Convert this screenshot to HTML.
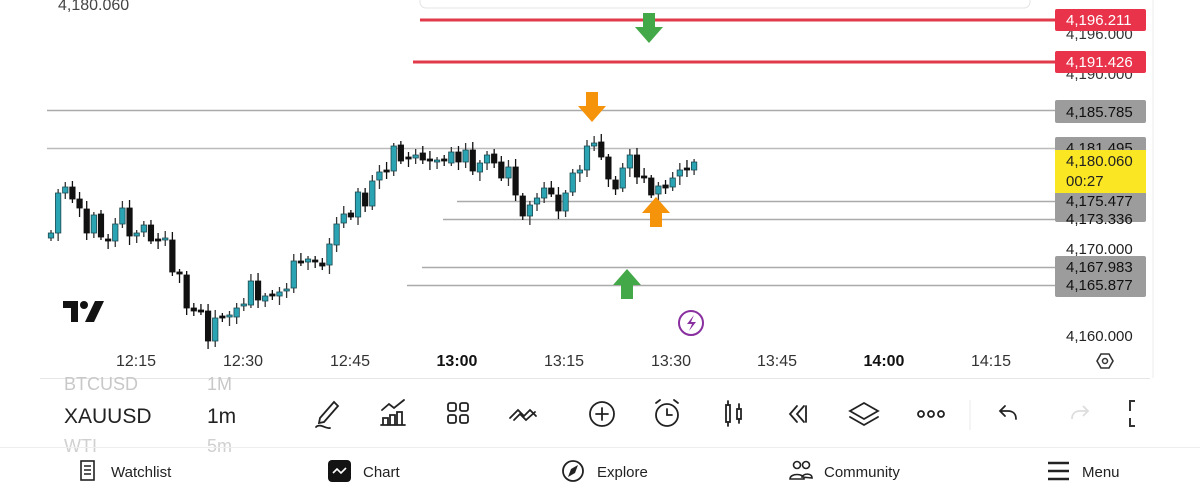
<!DOCTYPE html>
<html><head><meta charset="utf-8"><style>
html,body{margin:0;padding:0;width:1200px;height:496px;overflow:hidden;background:#fff;font-family:"Liberation Sans",sans-serif;}
svg{position:absolute;left:0;top:0}
.t{font-family:"Liberation Sans",sans-serif;}
</style></head><body>
<svg width="1200" height="496" viewBox="0 0 1200 496" id="s">
<rect x="420" y="-10" width="610" height="18" rx="6" fill="#fff" stroke="#e4e4e4"/>
<text x="58" y="10" font-size="16" fill="#444" class="t">4,180.060</text>
<!-- horizontal lines -->
<line x1="47" y1="110.5" x2="1055" y2="110.5" stroke="#aaa" stroke-width="1.5"/>
<line x1="47" y1="148.5" x2="1055" y2="148.5" stroke="#bbb" stroke-width="1.5"/>
<line x1="457" y1="201.5" x2="1055" y2="201.5" stroke="#aaa" stroke-width="1.5"/>
<line x1="443" y1="219.5" x2="1055" y2="219.5" stroke="#aaa" stroke-width="1.5"/>
<line x1="422" y1="267.5" x2="1055" y2="267.5" stroke="#aaa" stroke-width="1.5"/>
<line x1="407" y1="285.5" x2="1055" y2="285.5" stroke="#aaa" stroke-width="1.5"/>
<line x1="420" y1="20" x2="1055" y2="20" stroke="#e23a4b" stroke-width="3"/>
<line x1="413" y1="62" x2="1055" y2="62" stroke="#e23a4b" stroke-width="3"/>
<g id="c"></g>
<!-- arrows -->
<path d="M643,13h12v14h8l-14,16l-14,-16h8z" fill="#43a847"/>
<path d="M586,92h12v14h8l-14,16l-14,-16h8z" fill="#f5930b"/>
<path d="M650,227h12v-14h8l-14,-16l-14,16h8z" fill="#f5930b"/>
<path d="M621,299h12v-14h8l-14,-16l-14,16h8z" fill="#43a847"/>
<circle cx="691" cy="323" r="12" fill="none" stroke="#8a2fa0" stroke-width="2"/>
<path d="M694,315l-7,9h5l-3,7l7,-9h-5z" fill="#8a2fa0"/>
<!-- TV logo -->
<path d="M63,301h15v21h-7v-14h-8z" fill="#131313"/>
<circle cx="84" cy="305" r="4" fill="#131313"/>
<path d="M95,301h9l-10,21h-9z" fill="#131313"/>
<!-- price labels -->
<g class="t" font-size="15">
<text x="1066" y="39" fill="#333">4,196.000</text>
<text x="1066" y="79" fill="#333">4,190.000</text>
<rect x="1055" y="9" width="91" height="22" rx="2" fill="#e8334a"/>
<text x="1066" y="25" fill="#fff">4,196.211</text>
<rect x="1055" y="51" width="91" height="22" rx="2" fill="#e8334a"/>
<text x="1066" y="67" fill="#fff">4,191.426</text>
<rect x="1055" y="100" width="91" height="23" rx="2" fill="#9c9c9c"/>
<text x="1066" y="117" fill="#111">4,185.785</text>
<rect x="1055" y="137" width="91" height="85" rx="2" fill="#9c9c9c"/>
<text x="1066" y="153" fill="#111">4,181.495</text>
<rect x="1055" y="150" width="91" height="43" fill="#fbe623"/>
<text x="1066" y="166" fill="#222">4,180.060</text>
<text x="1066" y="186" fill="#222">00:27</text>
<text x="1066" y="206" fill="#111">4,175.477</text>
<text x="1066" y="224" fill="#111">4,173.336</text>
<text x="1066" y="254" fill="#222">4,170.000</text>
<rect x="1055" y="256" width="91" height="41" rx="2" fill="#9c9c9c"/>
<text x="1066" y="272" fill="#111">4,167.983</text>
<text x="1066" y="290" fill="#111">4,165.877</text>
<text x="1066" y="341" fill="#222">4,160.000</text>
</g>
<!-- time axis -->
<g class="t" font-size="16" fill="#333" text-anchor="middle">
<text x="136" y="366">12:15</text><text x="243" y="366">12:30</text><text x="350" y="366">12:45</text>
<text x="457" y="366" font-weight="bold" fill="#111">13:00</text><text x="564" y="366">13:15</text><text x="671" y="366">13:30</text>
<text x="777" y="366">13:45</text><text x="884" y="366" font-weight="bold" fill="#111">14:00</text><text x="991" y="366">14:15</text>
</g>
<path d="M1097,361l4,-7h8l4,7l-4,7h-8z" fill="none" stroke="#333" stroke-width="1.6"/>
<circle cx="1105" cy="361" r="2.5" fill="none" stroke="#333" stroke-width="1.5"/>
<line x1="1153" y1="0" x2="1153" y2="378" stroke="#eee"/>
<line x1="40" y1="378.5" x2="1150" y2="378.5" stroke="#e6e6e6"/>
<!-- toolbar -->
<g class="t">
<text x="64" y="390" font-size="18" fill="#c8c8c8">BTCUSD</text>
<text x="207" y="390" font-size="18" fill="#c8c8c8">1M</text>
<text x="64" y="423" font-size="21" fill="#222">XAUUSD</text>
<text x="207" y="423" font-size="21" fill="#222">1m</text>
<text x="64" y="452" font-size="18" fill="#d0d0d0">WTI</text>
<text x="207" y="452" font-size="18" fill="#d0d0d0">5m</text>
</g>
<g fill="none" stroke="#222" stroke-width="1.8" stroke-linecap="round">
<path d="M320,418l14,-16l4,4l-14,16l-5,1z M316,427c4,-4 10,2 14,1"/>
<path d="M381,425h24 M383,424v-6h5v6 M390,424v-9h5v9 M397,424v-12h5v12 M382,410l7,-6l5,4l10,-8"/>
<rect x="448" y="403" width="8" height="8" rx="2"/><rect x="460" y="403" width="8" height="8" rx="2"/><rect x="448" y="415" width="8" height="8" rx="2"/><rect x="460" y="415" width="8" height="8" rx="2"/>
<path d="M510,418l8,-8l6,6l6,-6l6,6 M514,420l6,-6l6,6l9,-8"/>
<circle cx="602" cy="414" r="12"/><path d="M596,414h12 M602,408v12"/>
<circle cx="667" cy="415" r="11"/><path d="M667,409v6h5 M656,403l4,-3 M678,403l-4,-3"/>
<rect x="726" y="405" width="4" height="17"/><path d="M728,401v4 M728,422v4"/><rect x="737" y="409" width="4" height="10"/><path d="M739,404v5 M739,419v4"/>
<path d="M797,406l-7,8l7,8 M804,406l-7,8l7,8 M806,406v16"/>
<path d="M864,403l14,8l-14,8l-14,-8z M850,417l14,8l14,-8"/>
<circle cx="921" cy="414" r="3"/><circle cx="931" cy="414" r="3"/><circle cx="941" cy="414" r="3"/>
<path d="M1005,406l-5,5l5,5 M1000,411h8c5,0 8,3 8,8"/>
</g>
<line x1="970" y1="400" x2="970" y2="430" stroke="#e8e8e8"/>
<path d="M1083,406l5,5l-5,5 M1088,411h-8c-5,0 -8,3 -8,8" fill="none" stroke="#ddd" stroke-width="1.8"/>
<path d="M1135,401h-5v10 M1130,418v8h5" fill="none" stroke="#333" stroke-width="2"/>
<line x1="0" y1="447.5" x2="1200" y2="447.5" stroke="#eee"/>
<!-- bottom nav -->
<g class="t" font-size="15" fill="#222">
<rect x="81" y="461" width="13" height="19" fill="none" stroke="#222" stroke-width="1.6"/>
<path d="M84,466h7 M84,470h7 M84,474h7" stroke="#222" stroke-width="1.4"/>
<text x="111" y="477">Watchlist</text>
<rect x="328" y="460" width="23" height="22" rx="4" fill="#131313"/>
<path d="M333,473l4,-4l4,4l5,-5" stroke="#fff" stroke-width="1.6" fill="none"/>
<text x="363" y="477">Chart</text>
<circle cx="573" cy="471" r="10" fill="none" stroke="#222" stroke-width="1.8"/>
<path d="M568,477l3,-8l7,-4l-3,8z" fill="#222"/>
<text x="597" y="477">Explore</text>
<circle cx="797" cy="465" r="3.5" fill="none" stroke="#222" stroke-width="1.6"/><circle cx="806" cy="465" r="3.5" fill="none" stroke="#222" stroke-width="1.6"/>
<path d="M790,479c0,-6 14,-6 14,0z M802,477c2,-4 10,-4 10,1z" fill="none" stroke="#222" stroke-width="1.6"/>
<text x="824" y="477">Community</text>
<path d="M1048,463h21 M1048,471h21 M1048,479h21" stroke="#222" stroke-width="2.6"/>
<text x="1082" y="477">Menu</text>
</g>
</svg>
<script>
var d=[[51,233,238,1],[58,193,233,1],[65,187,193,1],[72,187,199,0],[79,199,208,0],[86,209,233,0],[93,215,233,1],[100,214,237,0],[107,239,241,0],[114,224,241,1],[121,208,224,1],[128,208,236,0],[135,233,236,1],[142,225,232,1],[149,225,241,0],[156,239,241,0],[163,238,240,1],[170,240,272,0],[177,272,274,0],[184,275,308,0],[191,308,311,0],[198,310,312,0],[205,311,341,0],[212,318,341,1],[219,316,318,0],[226,315,317,1],[233,308,317,1],[240,304,306,1],[247,281,305,1],[254,281,300,0],[261,296,301,1],[268,294,296,0],[275,292,296,1],[282,289,291,1],[289,261,288,1],[296,261,263,0],[303,259,262,1],[310,260,262,0],[317,263,266,0],[324,244,265,1],[331,224,245,1],[338,214,223,1],[345,213,217,0],[352,192,217,1],[359,193,206,0],[366,181,206,1],[373,172,180,1],[380,170,172,0],[387,146,171,1],[394,145,161,0],[401,157,159,0],[407,155,158,1],[414,153,160,0],[421,159,161,0],[428,160,162,1],[435,159,161,0],[442,152,163,1],[449,152,162,0],[456,150,162,1],[463,150,171,0],[470,163,172,1],[477,155,163,1],[484,154,163,0],[491,162,178,0],[498,167,178,1],[505,167,195,0],[512,196,216,0],[519,205,216,1],[526,198,204,1],[533,188,198,1],[540,188,194,0],[547,195,211,0],[554,193,211,1],[561,173,192,1],[568,170,173,1],[575,146,170,1],[582,143,146,1],[589,142,157,0],[596,157,179,0],[603,180,189,0],[610,168,188,1],[617,155,168,1],[624,155,177,0],[631,176,178,0],[638,178,195,0],[645,186,194,1],[652,185,188,0],[659,178,187,1],[666,170,176,1],[673,168,170,0],[680,162,170,1]];
// shift second half x to match measured positions
var out='',n=d.length;
for(var i=0;i<n;i++){var c=d[i],x=51+i*7.14+(i>49?0.5:0),t=c[1],b=c[2];var up=c[3];
var f=up?'#2aa3b3':'#111',s=up?'#1d4a50':'#111';
var wt=t-3-(i*7)%6,wb=b+3+(i*5)%7;
out+='<line x1="'+x+'" y1="'+wt+'" x2="'+x+'" y2="'+wb+'" stroke="'+(up?'#333':'#111')+'" stroke-width="1.3"/>';
out+='<rect x="'+(x-2.7)+'" y="'+t+'" width="5.4" height="'+Math.max(b-t,2)+'" fill="'+f+'" stroke="'+s+'" stroke-width="0.8"/>';}
document.getElementById('c').innerHTML=out;
</script>
</body></html>
